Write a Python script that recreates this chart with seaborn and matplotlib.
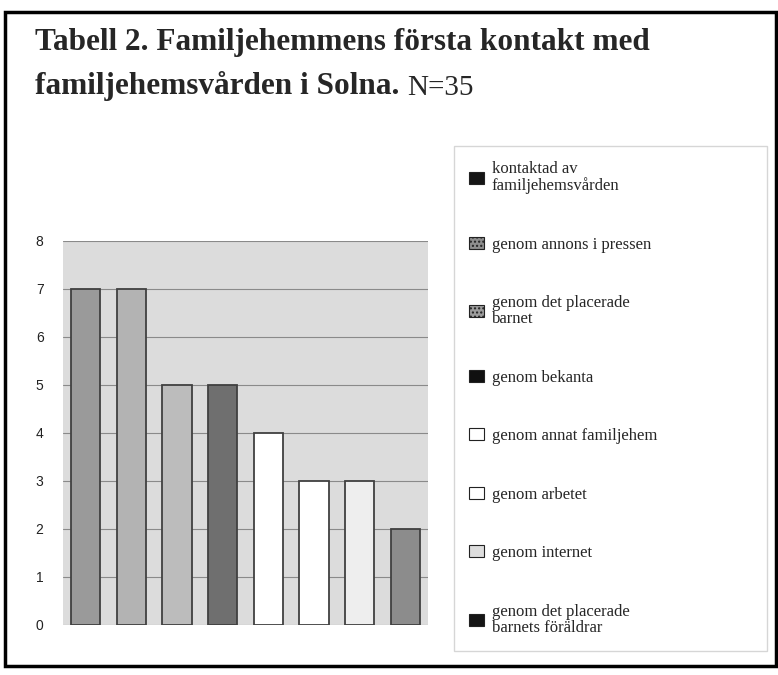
import matplotlib
matplotlib.use("Agg")
import matplotlib.pyplot as plt
import matplotlib.patches as mpatches
import seaborn as sns
import pandas as pd

# ---- data ----
categories = [
    "kontaktad av\nfamiljehemsvården",
    "genom annons i pressen",
    "genom det placerade\nbarnet",
    "genom bekanta",
    "genom annat familjehem",
    "genom arbetet",
    "genom internet",
    "genom det placerade\nbarnets föräldrar",
]
values = [7, 7, 5, 5, 4, 3, 3, 2]
yticks = [0, 1, 2, 3, 4, 5, 6, 7, 8]
title_line1 = "Tabell 2. Familjehemmens första kontakt med"
title_line2 = "familjehemsvården i Solna."
title_n = "N=35"

bar_colors = ["#9a9a9a", "#b3b3b3", "#bcbcbc", "#6f6f6f",
              "#ffffff", "#ffffff", "#eeeeee", "#8c8c8c"]
legend_colors = ["#151515", "#8e8e8e", "#9c9c9c", "#101010",
                 "#ffffff", "#ffffff", "#dddddd", "#151515"]
legend_hatch = [None, "....", "....", None, None, None, None, None]

df = pd.DataFrame({"kategori": categories, "antal": values})

sns.set_theme(style="white")
plt.rcParams["font.family"] = ["Liberation Sans", "DejaVu Sans"]

W, H = 778, 675
fig = plt.figure(figsize=(W / 100, H / 100), dpi=100)
fig.patch.set_facecolor("white")

ax = fig.add_axes([63 / W, 1 - 625 / H, (428 - 63) / W, (625 - 241) / H])
sns.barplot(data=df, x="kategori", y="antal", hue="kategori",
            palette=bar_colors, width=0.64, edgecolor="#404040",
            linewidth=1.3, legend=False, ax=ax, order=categories,
            hue_order=categories)

ax.set_facecolor("#dcdcdc")
ax.set_ylim(0, 8)
ax.set_xlim(-0.5, len(categories) - 0.5)
ax.set_yticks(yticks)
ax.set_yticklabels([str(t) for t in yticks], fontsize=10,
                   family="Liberation Sans", color="#222222")
ax.set_xticks([])
ax.set_xlabel("")
ax.set_ylabel("")
ax.tick_params(axis="y", length=0, pad=14)
ax.yaxis.grid(True, color="#8a8a8a", linewidth=0.8)
ax.set_axisbelow(True)
for s in ax.spines.values():
    s.set_visible(False)

# legend
handles = [mpatches.Patch(facecolor=c, edgecolor="#222222", hatch=h,
                          linewidth=0.8)
           for c, h in zip(legend_colors, legend_hatch)]
leg = fig.legend(handles, categories, loc="upper left",
                 bbox_to_anchor=(454 / W, 1 - 153 / H, (767 - 454) / W, 0.01),
                 mode="expand", frameon=True, fancybox=False,
                 prop={"family": "Liberation Serif", "size": 12},
                 handlelength=0.9, handleheight=0.7, handletextpad=0.45,
                 labelspacing=2.55, borderpad=0.9, borderaxespad=0.0)
for t in leg.get_texts():
    t.set_linespacing(1.0)
leg.get_frame().set_edgecolor("#cccccc")
leg.get_frame().set_linewidth(1.0)

# title
t1 = fig.text(35 / W, 1 - 28 / H, title_line1, ha="left", va="top",
              family="Liberation Serif", weight="bold", fontsize=22.5)
t2 = fig.text(35 / W, 1 - 71 / H, title_line2, ha="left", va="top",
              family="Liberation Serif", weight="bold", fontsize=22.5)
fig.canvas.draw()
ext = t2.get_window_extent()
fig.text(ext.x1 / W + 8 / W, ext.y0 / H, title_n, ha="left", va="bottom",
         family="Liberation Serif", fontsize=21)

# outer frame
frame = mpatches.Rectangle((5 / W, 1 - 666 / H), (776 - 5) / W, (666 - 12) / H,
                           transform=fig.transFigure, fill=False,
                           edgecolor="black", linewidth=2.5)
fig.patches.append(frame)

fig.savefig("out.png", dpi=100)
